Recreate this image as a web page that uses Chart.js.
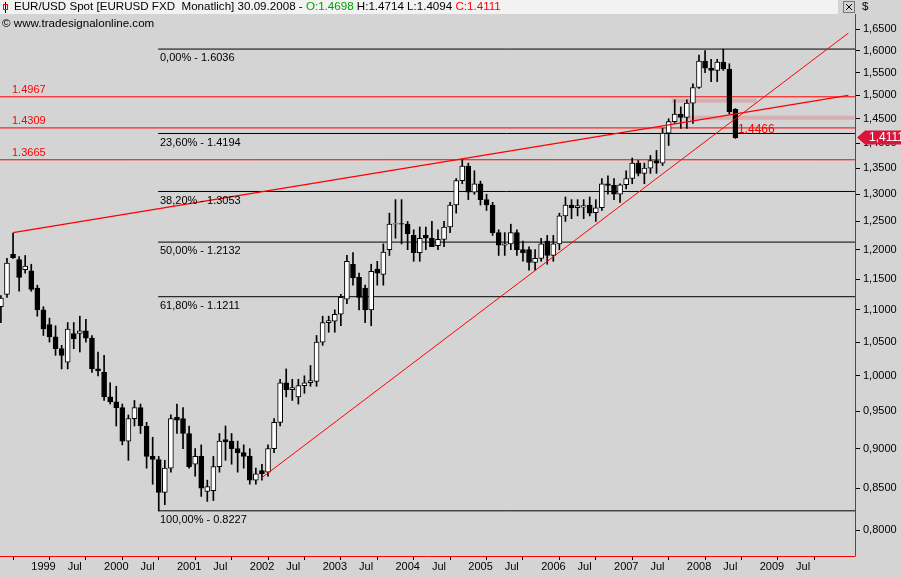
<!DOCTYPE html>
<html>
<head>
<meta charset="utf-8">
<script src="https://cdn.jsdelivr.net/npm/chart.js@4.4.1/dist/chart.umd.min.js"></script>
<style>
  html, body { margin: 0; padding: 0; background: #d4d4d4; }
  #wrap { width: 901px; height: 578px; position: relative; }
</style>
</head>
<body>
<div id="wrap"><canvas id="chart" width="901" height="578"></canvas></div>
<script>
// monthly candles, index 0 = Aug 1998 ... index 121 = Sep 2008
const opens = [1.105,1.125,1.192,1.183,1.166,1.164,1.135,1.10,1.077,1.058,1.04,1.02,1.063,1.063,1.067,1.056,1.01,1.005,0.97,0.963,
  0.955,0.91,0.94,0.955,0.93,0.89,0.886,0.845,0.875,0.942,0.94,0.92,0.88,0.89,0.846,0.847,0.877,0.912,0.91,0.90,
  0.895,0.89,0.86,0.872,0.87,0.90,0.935,0.99,0.98,0.97,0.986,0.99,0.992,1.05,1.08,1.082,1.093,1.117,1.175,1.153,
  1.135,1.10,1.167,1.158,1.20,1.245,1.246,1.245,1.225,1.195,1.225,1.22,1.207,1.218,1.24,1.28,1.326,1.354,1.304,1.32,
  1.29,1.28,1.23,1.208,1.21,1.23,1.20,1.20,1.178,1.185,1.215,1.19,1.21,1.26,1.28,1.275,1.276,1.28,1.266,1.275,
  1.32,1.317,1.30,1.318,1.33,1.36,1.34,1.35,1.365,1.36,1.42,1.444,1.46,1.453,1.483,1.517,1.576,1.56,1.555,1.574,
  1.558,1.4698];
const highs = [1.123,1.185,1.229,1.188,1.19,1.175,1.14,1.105,1.087,1.075,1.045,1.08,1.08,1.09,1.085,1.06,1.035,1.03,0.99,0.985,
  0.96,0.945,0.965,0.96,0.935,0.915,0.89,0.885,0.945,0.96,0.955,0.93,0.90,0.905,0.86,0.89,0.92,0.93,0.92,0.91,
  0.905,0.90,0.875,0.88,0.905,0.94,0.995,1.01,0.995,0.995,1.00,1.015,1.06,1.09,1.09,1.10,1.125,1.19,1.195,1.16,
  1.14,1.175,1.18,1.21,1.265,1.29,1.29,1.25,1.235,1.24,1.24,1.25,1.235,1.25,1.285,1.33,1.367,1.36,1.345,1.325,
  1.30,1.285,1.235,1.23,1.245,1.235,1.215,1.205,1.20,1.22,1.225,1.225,1.265,1.295,1.29,1.29,1.29,1.295,1.29,1.33,
  1.335,1.33,1.32,1.345,1.37,1.365,1.36,1.375,1.385,1.43,1.45,1.49,1.475,1.49,1.525,1.59,1.60,1.58,1.58,1.6036,
  1.57,1.4714];
const lows = [1.08,1.12,1.185,1.13,1.16,1.13,1.09,1.06,1.05,1.03,1.01,1.01,1.04,1.035,1.05,1.005,1.00,0.965,0.96,0.93,
  0.905,0.885,0.93,0.92,0.875,0.855,0.8227,0.83,0.87,0.92,0.90,0.875,0.865,0.84,0.834,0.835,0.87,0.885,0.88,0.87,
  0.875,0.855,0.855,0.86,0.865,0.895,0.93,0.97,0.965,0.96,0.975,0.985,0.985,1.045,1.065,1.065,1.075,1.11,1.14,1.10,
  1.08,1.075,1.14,1.14,1.19,1.22,1.21,1.20,1.18,1.18,1.20,1.205,1.20,1.205,1.23,1.265,1.32,1.29,1.30,1.28,
  1.27,1.225,1.19,1.19,1.20,1.19,1.18,1.165,1.165,1.18,1.175,1.18,1.20,1.25,1.255,1.26,1.255,1.26,1.25,1.27,
  1.30,1.29,1.285,1.31,1.32,1.335,1.32,1.34,1.34,1.355,1.395,1.44,1.43,1.43,1.44,1.515,1.55,1.53,1.53,1.555,
  1.46,1.4094];
const closes = [1.119,1.177,1.186,1.153,1.172,1.133,1.10,1.07,1.058,1.04,1.03,1.07,1.055,1.067,1.056,1.01,1.007,0.97,0.963,0.955,
  0.91,0.94,0.955,0.93,0.89,0.886,0.845,0.875,0.94,0.938,0.92,0.877,0.89,0.85,0.852,0.877,0.91,0.909,0.90,0.895,
  0.89,0.86,0.868,0.868,0.90,0.935,0.99,0.98,0.983,0.986,0.99,0.993,1.05,1.08,1.083,1.093,1.12,1.18,1.152,1.12,
  1.10,1.163,1.16,1.196,1.245,1.246,1.245,1.228,1.195,1.22,1.22,1.205,1.218,1.24,1.28,1.326,1.354,1.304,1.32,1.29,
  1.28,1.23,1.208,1.21,1.23,1.20,1.195,1.178,1.185,1.21,1.19,1.21,1.26,1.28,1.275,1.279,1.279,1.265,1.275,1.32,
  1.317,1.30,1.318,1.33,1.36,1.34,1.35,1.365,1.36,1.42,1.444,1.46,1.453,1.483,1.517,1.576,1.56,1.555,1.574,1.558,
  1.465,1.4111];

const priceTicks = [0.80,0.85,0.90,0.95,1.00,1.05,1.10,1.15,1.20,1.25,1.30,1.35,1.40,1.45,1.50,1.55,1.60,1.65];
const fibLevels = [1.6036, 1.4194, 1.3053, 1.2132, 1.1211, 0.8227];
const fibNames = ['0,00% - 1.6036','23,60% - 1.4194','38,20% - 1.3053','50,00% - 1.2132','61,80% - 1.1211','100,00% - 0.8227'];
const redLevels = [1.4967, 1.4309, 1.3665];
const upperTrend = [{x: 2, y: 1.2298}, {x: 139.6, y: 1.50}];
const lowerTrend = [{x: 42.9, y: 0.8626}, {x: 139.6, y: 1.641}];
const firstMonth = 5; // Jan 1999

const bodies = opens.map((o, i) => ({x: i, y: [o, closes[i]]}));
const wicks = highs.map((h, i) => ({x: i, y: [lows[i], h]}));
const bodyFill = opens.map((o, i) => closes[i] >= o ? '#ffffff' : '#000000');

const hline = (v, x0) => [{x: x0, y: v}, {x: 140.7, y: v}];
const lineSets = [];
fibLevels.forEach(v => lineSets.push({type: 'line', data: hline(v, 25.9), borderColor: '#000', borderWidth: 1, pointRadius: 0, order: 3}));
redLevels.forEach(v => lineSets.push({type: 'line', data: hline(v, -1), borderColor: '#ff0000', borderWidth: 1, pointRadius: 0, order: 3}));
lineSets.push({type: 'line', data: [{x: 110.5, y: 1.488}, {x: 124.5, y: 1.488}], borderColor: 'rgba(220,130,140,0.45)', borderWidth: 4, pointRadius: 0, order: 4});
lineSets.push({type: 'line', data: [{x: 113, y: 1.452}, {x: 140.6, y: 1.452}], borderColor: 'rgba(220,130,140,0.45)', borderWidth: 4, pointRadius: 0, order: 4});
lineSets.push({type: 'line', data: upperTrend, borderColor: '#ff0000', borderWidth: 1.3, pointRadius: 0, order: 0});
lineSets.push({type: 'line', data: lowerTrend, borderColor: '#ff0000', borderWidth: 1, pointRadius: 0, order: 0});

const overlay = {
  id: 'overlay',
  afterDraw(chart) {
    const c = chart.ctx, y = chart.scales.y;
    c.save();
    c.font = '11px "Liberation Sans", Arial, sans-serif';
    c.textBaseline = 'middle';
    fibLevels.forEach((v, i) => { c.fillStyle = '#000'; c.fillText(fibNames[i], 160, y.getPixelForValue(v) + 9); });
    redLevels.forEach(v => { c.fillStyle = '#ff0000'; c.fillText(v.toFixed(4), 12, y.getPixelForValue(v) - 7); });
    c.fillStyle = '#ff0000';
    c.font = '12px "Liberation Sans", Arial, sans-serif';
    c.fillText('1.4466', 738, y.getPixelForValue(1.4309) + 2);
    // plot frame
    c.strokeStyle = '#ff0000'; c.lineWidth = 1;
    c.beginPath(); c.moveTo(855.5, 14); c.lineTo(855.5, 556); c.stroke();
    c.beginPath(); c.moveTo(0, 556.5); c.lineTo(855.5, 556.5); c.stroke();
    // last price tag
    const py = y.getPixelForValue(closes[closes.length - 1]);
    c.fillStyle = '#dc143c';
    c.beginPath(); c.moveTo(857, py); c.lineTo(865, py - 7); c.lineTo(901, py - 7); c.lineTo(901, py + 7); c.lineTo(865, py + 7); c.closePath(); c.fill();
    c.fillStyle = '#fff'; c.font = '12px "Liberation Sans", Arial, sans-serif';
    c.fillText('1,4111', 869, py);
    // title bar
    c.fillStyle = '#f2f2f2'; c.fillRect(0, 0, 838, 14);
    c.font = '11.6px "Liberation Sans", Arial, sans-serif';
    let tx = 14;
    const parts = [['EUR/USD Spot [EURUSD FXD  Monatlich] 30.09.2008 - ', '#000'], ['O:1.4698', '#00a000'], [' H:1.4714 L:1.4094 ', '#000'], ['C:1.4111', '#ff0000']];
    parts.forEach(p => { c.fillStyle = p[1]; c.fillText(p[0], tx, 7); tx += c.measureText(p[0]).width; });
    c.fillStyle = '#000';
    c.fillRect(5, 2, 1, 11); c.strokeRect(3.5, 4.5, 4, 5);
    c.fillText('\u00a9 www.tradesignalonline.com', 2, 24);
    c.fillText('$', 862, 7);
    c.strokeStyle = '#777'; c.strokeRect(843.5, 1.5, 11, 11);
    c.beginPath(); c.moveTo(846, 4); c.lineTo(852, 10); c.moveTo(852, 4); c.lineTo(846, 10); c.strokeStyle = '#000'; c.stroke();
    c.restore();
  }
};

new Chart(document.getElementById('chart'), {
  data: {
    datasets: [
      {type: 'bar', data: wicks, backgroundColor: '#000', barThickness: 1, grouped: false, order: 2},
      {type: 'bar', data: bodies, backgroundColor: bodyFill, borderColor: '#000', borderWidth: 1, borderSkipped: false, barThickness: 5, grouped: false, order: 1},
      ...lineSets
    ]
  },
  options: {
    responsive: false,
    animation: false,
    layout: {padding: {top: 14, left: 0, right: 0, bottom: 0}},
    plugins: {legend: {display: false}, tooltip: {enabled: false}},
    scales: {
      x: {
        type: 'linear', min: -0.15, max: 140.7, offset: false,
        afterFit: s => { s.height = 22; s.paddingLeft = 0; s.paddingRight = 0; },
        afterBuildTicks: s => {
          const t = [];
          for (let i = firstMonth; i <= 131; i += 6) t.push({value: i});
          s.ticks = t;
        },
        ticks: {
          autoSkip: false, maxRotation: 0, align: 'start', padding: 0,
          color: '#000', font: {family: 'Liberation Sans', size: 11},
          callback: v => (v - firstMonth) % 12 === 0 ? String(1999 + (v - firstMonth) / 12) : 'Jul'
        },
        grid: {display: true, drawOnChartArea: false, drawTicks: true, tickLength: 4, color: '#000'},
        border: {display: false}
      },
      y: {
        type: 'logarithmic', position: 'right', min: 0.7707, max: 1.687,
        afterFit: s => { s.width = 46; },
        afterBuildTicks: s => { s.ticks = priceTicks.map(v => ({value: v})); },
        ticks: {
          color: '#000', font: {family: 'Liberation Sans', size: 11}, padding: 3,
          callback: v => v.toFixed(4).replace('.', ',')
        },
        grid: {display: true, drawOnChartArea: false, drawTicks: true, tickLength: 5, color: '#000'},
        border: {display: false}
      }
    }
  },
  plugins: [overlay]
});
</script>
</body>
</html>
